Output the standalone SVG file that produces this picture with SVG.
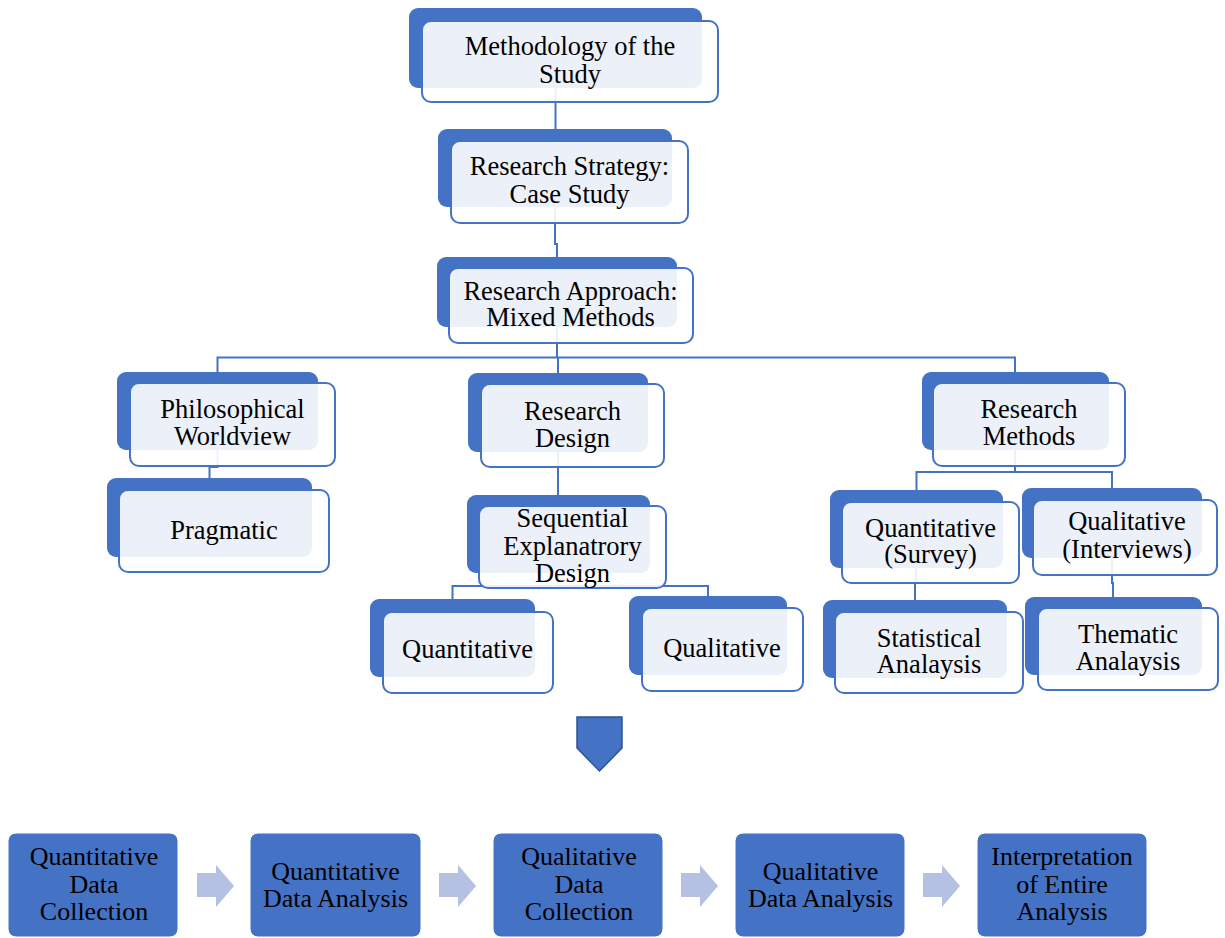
<svg xmlns="http://www.w3.org/2000/svg" width="1225" height="938" viewBox="0 0 1225 938">
  <style>
    .back { fill: #4472C4; }
    .front { fill: #FFFFFF; fill-opacity: 0.9; stroke: #4472C4; stroke-width: 2; }
    .lbl { font-family: 'Liberation Serif', Tinos, 'DejaVu Serif', serif; font-size: 26.5px; fill: #000000; text-anchor: middle; }
    .step { fill: #4472C4; stroke: #FFFFFF; stroke-width: 1; }
    .steplbl { font-family: 'Liberation Serif', Tinos, 'DejaVu Serif', serif; font-size: 26px; fill: #000000; text-anchor: middle; }
    .flow { fill: #B4C1E2; }
    .link { fill: none; stroke: #4472C4; stroke-width: 2; }
  </style>

  <!-- hierarchy connectors (drawn beneath the nodes) -->
  <g id="connectors">
    <path class="link" d="M555.5 88 V129"/>
    <path class="link" d="M555 207 V244 H557 V257"/>
    <path class="link" d="M557 327 V357.5"/>
    <path class="link" d="M217.5 372 V357.5 H1015 V372"/>
    <path class="link" d="M558 357.5 V373"/>
    <path class="link" d="M217.5 450 V467 H209.5 V478"/>
    <path class="link" d="M558 452 V495"/>
    <path class="link" d="M558.5 573 V586"/>
    <path class="link" d="M452.5 599 V586 H708 V596"/>
    <path class="link" d="M1015 450 V472"/>
    <path class="link" d="M916.5 490 V472 H1112 V488"/>
    <path class="link" d="M916 568 V583 H915 V600"/>
    <path class="link" d="M1112 558 V583 H1113 V597"/>
  </g>

  <g id="node-methodology">
    <rect class="back" x="409" y="8" width="293" height="80" rx="9"/>
    <rect class="front" x="422" y="21" width="296" height="81" rx="9"/>
    <text class="lbl" x="570" y="55">Methodology of the</text>
    <text class="lbl" x="570" y="83">Study</text>
  </g>

  <g id="node-strategy">
    <rect class="back" x="438" y="129" width="234" height="78" rx="9"/>
    <rect class="front" x="451" y="141" width="237" height="82" rx="9"/>
    <text class="lbl" x="569.5" y="175">Research Strategy:</text>
    <text class="lbl" x="569.5" y="203">Case Study</text>
  </g>

  <g id="node-approach">
    <rect class="back" x="437" y="257" width="240" height="70" rx="9"/>
    <rect class="front" x="449" y="268" width="244" height="75" rx="9"/>
    <text class="lbl" x="570.5" y="300">Research Approach:</text>
    <text class="lbl" x="570.5" y="326">Mixed Methods</text>
  </g>

  <g id="node-worldview">
    <rect class="back" x="117" y="372" width="201" height="78" rx="9"/>
    <rect class="front" x="130" y="383" width="205" height="83" rx="9"/>
    <text class="lbl" x="232.5" y="418">Philosophical</text>
    <text class="lbl" x="232.5" y="445">Worldview</text>
  </g>

  <g id="node-pragmatic">
    <rect class="back" x="107" y="478" width="205" height="79" rx="9"/>
    <rect class="front" x="119" y="490" width="210" height="82" rx="9"/>
    <text class="lbl" x="224" y="539">Pragmatic</text>
  </g>

  <g id="node-design">
    <rect class="back" x="468" y="373" width="180" height="79" rx="9"/>
    <rect class="front" x="481" y="384" width="183" height="83" rx="9"/>
    <text class="lbl" x="572.5" y="420">Research</text>
    <text class="lbl" x="572.5" y="447">Design</text>
  </g>

  <g id="node-sequential">
    <rect class="back" x="467" y="495" width="183" height="78" rx="9"/>
    <rect class="front" x="479" y="506" width="187" height="82" rx="9"/>
    <text class="lbl" x="572.5" y="527">Sequential</text>
    <text class="lbl" x="572.5" y="555">Explanatrory</text>
    <text class="lbl" x="572.5" y="582">Design</text>
  </g>

  <g id="node-design-quantitative">
    <rect class="back" x="370" y="599" width="165" height="78" rx="9"/>
    <rect class="front" x="383" y="612" width="170" height="81" rx="9"/>
    <text class="lbl" x="467.5" y="658">Quantitative</text>
  </g>

  <g id="node-design-qualitative">
    <rect class="back" x="629" y="596" width="158" height="79" rx="9"/>
    <rect class="front" x="642" y="608" width="161" height="83" rx="9"/>
    <text class="lbl" x="722" y="657">Qualitative</text>
  </g>

  <g id="node-methods">
    <rect class="back" x="922" y="372" width="187" height="78" rx="9"/>
    <rect class="front" x="933" y="383" width="192" height="83" rx="9"/>
    <text class="lbl" x="1029" y="418">Research</text>
    <text class="lbl" x="1029" y="445">Methods</text>
  </g>

  <g id="node-survey">
    <rect class="back" x="830" y="490" width="173" height="78" rx="9"/>
    <rect class="front" x="842" y="502" width="177" height="81" rx="9"/>
    <text class="lbl" x="930.5" y="537">Quantitative</text>
    <text class="lbl" x="930.5" y="563">(Survey)</text>
  </g>

  <g id="node-interviews">
    <rect class="back" x="1022" y="488" width="180" height="70" rx="9"/>
    <rect class="front" x="1033" y="500" width="184" height="75" rx="9"/>
    <text class="lbl" x="1127" y="530">Qualitative</text>
    <text class="lbl" x="1127" y="558">(Interviews)</text>
  </g>

  <g id="node-statistical">
    <rect class="back" x="823" y="600" width="184" height="78" rx="9"/>
    <rect class="front" x="835" y="612" width="188" height="81" rx="9"/>
    <text class="lbl" x="929" y="647">Statistical</text>
    <text class="lbl" x="929" y="673">Analaysis</text>
  </g>

  <g id="node-thematic">
    <rect class="back" x="1025" y="597" width="177" height="78" rx="9"/>
    <rect class="front" x="1038" y="608" width="180" height="82" rx="9"/>
    <text class="lbl" x="1128" y="643">Thematic</text>
    <text class="lbl" x="1128" y="670">Analaysis</text>
  </g>

  <!-- downward pentagon leading into the process flow -->
  <g id="down-arrow">
    <polygon points="577,717 622,717 622,748 599.5,771 577,748" fill="#4472C4" stroke="#2F528F" stroke-width="1.5"/>
  </g>

  <!-- process flow -->
  <g id="step-quant-collection">
    <rect class="step" x="8" y="833" width="170" height="104" rx="8"/>
    <text class="steplbl" x="94" y="865">Quantitative</text>
    <text class="steplbl" x="94" y="893">Data</text>
    <text class="steplbl" x="94" y="920">Collection</text>
  </g>
  <g id="step-quant-analysis">
    <rect class="step" x="250" y="833" width="171" height="104" rx="8"/>
    <text class="steplbl" x="335.5" y="880">Quantitative</text>
    <text class="steplbl" x="335.5" y="907">Data Analysis</text>
  </g>
  <g id="step-qual-collection">
    <rect class="step" x="493" y="833" width="170" height="104" rx="8"/>
    <text class="steplbl" x="579" y="865">Qualitative</text>
    <text class="steplbl" x="579" y="893">Data</text>
    <text class="steplbl" x="579" y="920">Collection</text>
  </g>
  <g id="step-qual-analysis">
    <rect class="step" x="735" y="833" width="170" height="104" rx="8"/>
    <text class="steplbl" x="820.5" y="880">Qualitative</text>
    <text class="steplbl" x="820.5" y="907">Data Analysis</text>
  </g>
  <g id="step-interpretation">
    <rect class="step" x="977" y="833" width="170" height="104" rx="8"/>
    <text class="steplbl" x="1062" y="865">Interpretation</text>
    <text class="steplbl" x="1062" y="893">of Entire</text>
    <text class="steplbl" x="1062" y="920">Analysis</text>
  </g>

  <g id="flow-arrows">
    <polygon class="flow" points="197,873 216,873 216,865 234,886 216,907 216,897 197,897"/>
    <polygon class="flow" points="439,873 458,873 458,865 476,886 458,907 458,897 439,897"/>
    <polygon class="flow" points="681,873 700,873 700,865 718,886 700,907 700,897 681,897"/>
    <polygon class="flow" points="923,873 942,873 942,865 960,886 942,907 942,897 923,897"/>
  </g>
</svg>
